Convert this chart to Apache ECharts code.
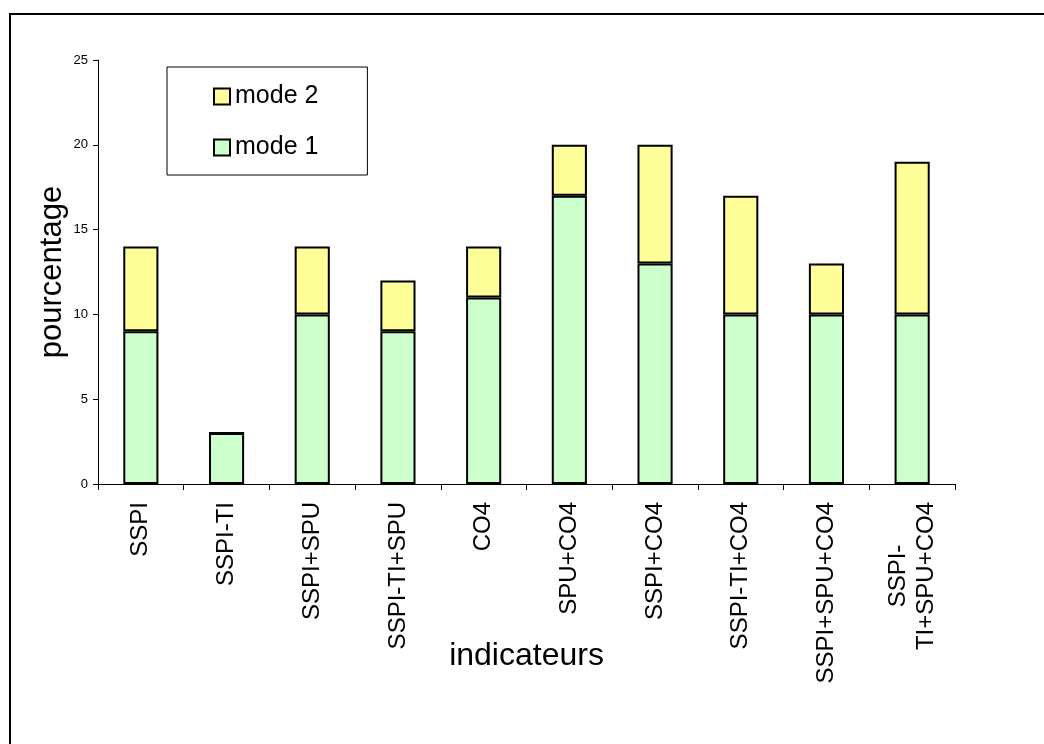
<!DOCTYPE html>
<html>
<head>
<meta charset="utf-8">
<script src="https://cdn.jsdelivr.net/npm/echarts@6/dist/echarts.min.js"></script>
<style>
  html, body { margin: 0; padding: 0; background: #fff; }
  #chart { width: 1044px; height: 744px; }
</style>
</head>
<body>
<div id="chart"></div>
<script>
var categories = ['SSPI', 'SSPI-TI', 'SSPI+SPU', 'SSPI-TI+SPU', 'CO4', 'SPU+CO4',
    'SSPI+CO4', 'SSPI-TI+CO4', 'SSPI+SPU+CO4', 'SSPI-\nTI+SPU+CO4'];
var mode1 = [9, 3, 10, 9, 11, 17, 13, 10, 10, 10];
var mode2 = [5, 0, 4, 3, 3, 3, 7, 7, 3, 9];

var chart = echarts.init(document.getElementById('chart'));
var font = 'Liberation Sans, Arial, sans-serif';

option = {
    backgroundColor: '#fff',
    textStyle: { fontFamily: font, color: '#000' },
    animation: false,
    // cadre du graphique (seuls les bords haut et gauche sont visibles)
    graphic: [{
        type: 'rect',
        shape: { x: 10, y: 14, width: 1100, height: 800 },
        style: { fill: 'none', stroke: '#000', lineWidth: 2 },
        silent: true
    }],
    grid: { left: 98, top: 60, right: 89, bottom: 260 },
    legend: {
        orient: 'vertical',
        left: 167, top: 67,
        padding: [17, 49, 15, 46],
        itemGap: 26,
        itemWidth: 16, itemHeight: 16,
        icon: 'rect',
        borderColor: '#000', borderWidth: 1,
        data: ['mode 2', 'mode 1'],
        textStyle: { fontFamily: font, fontSize: 25, color: '#000' },
        itemStyle: { borderColor: '#000', borderWidth: 2 }
    },
    xAxis: {
        type: 'category',
        data: categories,
        name: 'indicateurs',
        nameLocation: 'middle',
        nameGap: 156,
        nameMoveOverlap: false,
        nameTextStyle: { fontFamily: font, fontSize: 32, color: '#000' },
        axisLine: { lineStyle: { color: '#000', width: 1 } },
        axisTick: { show: true, length: 6, lineStyle: { color: '#000' } },
        axisLabel: {
            rotate: 90, interval: 0, margin: 18, align: 'right',
            formatter: function (v) {
                return v.split('\n').map(function (s) { return '{c|' + s + '}'; }).join('\n');
            },
            rich: {
                c: { fontFamily: font, fontSize: 24, color: '#000', lineHeight: 28, align: 'center' }
            }
        }
    },
    yAxis: {
        type: 'value',
        min: 0, max: 25, interval: 5,
        name: 'pourcentage',
        nameLocation: 'middle',
        nameGap: 30,
        nameMoveOverlap: false,
        nameTextStyle: { fontFamily: font, fontSize: 31, color: '#000' },
        splitLine: { show: false },
        axisLine: { show: true, lineStyle: { color: '#000', width: 1 } },
        axisTick: { show: true, length: 5, lineStyle: { color: '#000' } },
        axisLabel: { fontSize: 13, color: '#000', margin: 10 }
    },
    series: [{
        name: 'mode 1',
        type: 'bar',
        stack: 'total',
        data: mode1,
        barWidth: '41%',
        itemStyle: { color: '#ccffcc', borderColor: '#000', borderWidth: 2 }
    }, {
        name: 'mode 2',
        type: 'bar',
        stack: 'total',
        data: mode2,
        barWidth: '41%',
        itemStyle: { color: '#ffff99', borderColor: '#000', borderWidth: 2 }
    }]
};
chart.setOption(option);
</script>
</body>
</html>
